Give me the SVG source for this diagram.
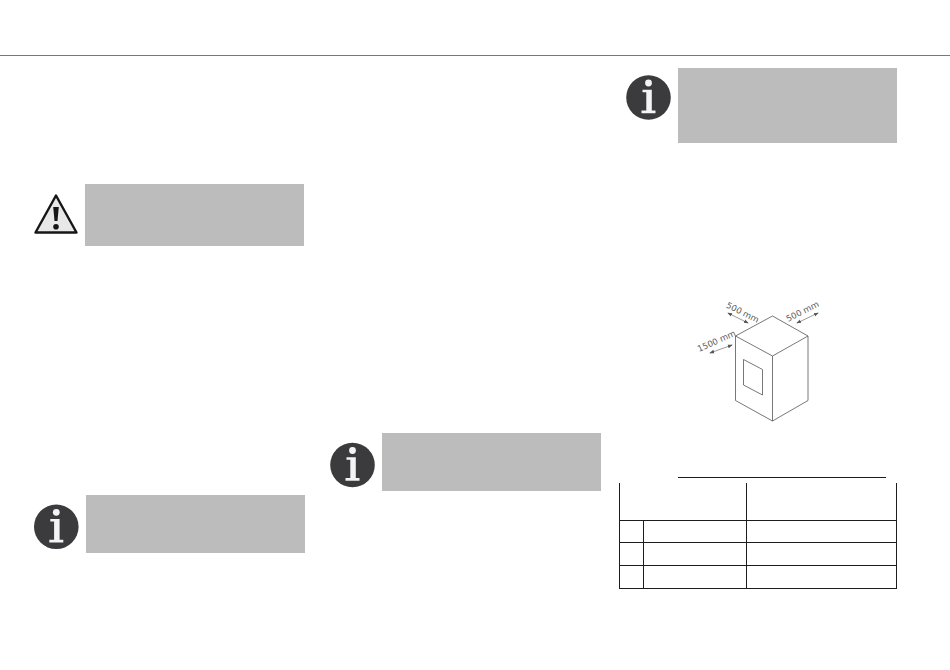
<svg xmlns="http://www.w3.org/2000/svg" width="950" height="670" viewBox="0 0 950 670">
<style>
.box{fill:#bcbcbc}
.disc{fill:#3b3b3d}
.gl{fill:#f4f4f4}
.t{stroke:#1c1c1c;stroke-width:1;fill:none}
.c{stroke:#555;stroke-width:.8;fill:none;stroke-linejoin:round}
.d{font-family:"DejaVu Sans",sans-serif;font-size:8.500px;fill:#5a5a5a}
.a{stroke:#555;stroke-width:.6;fill:none}
</style>
<defs>
<g id="info">
<circle cx="0" cy="0" r="22.300" class="disc"/>
<circle cx="0" cy="-14.500" r="3.400" class="gl"/>
<path class="gl" d="M-6-7.700H3.300V13H7V15.700H-7V13H-2.200V-5.200H-6Z"/>
</g>
<marker id="ah" viewBox="0 0 6 6" refX="5" refY="3" markerWidth="5" markerHeight="5" orient="auto-start-reverse" markerUnits="userSpaceOnUse"><path d="M0 .8L6 3L0 5.200Z" fill="#555"/></marker>
</defs>
<rect width="950" height="670" fill="#fff"/>
<line x1="0" y1="55.500" x2="950" y2="55.500" stroke="#777" stroke-width="1"/>
<g id="warning-note">
<rect class="box" x="85" y="184" width="219" height="62"/>
<path d="M56 195.500L76.500 232.500H35.500Z" fill="#e8e8e8" stroke="#161616" stroke-width="2.400" stroke-linejoin="round"/>
<path d="M53.200 207H58.800L57.500 221H54.500Z" fill="#161616"/>
<circle cx="56" cy="226.800" r="2.800" fill="#161616"/>
</g>
<g id="info-note-1">
<rect class="box" x="86" y="495" width="219" height="58"/>
<use href="#info" x="56.300" y="526.800"/>
</g>
<g id="info-note-2">
<rect class="box" x="382" y="433" width="219" height="58"/>
<use href="#info" x="352.500" y="465"/>
</g>
<g id="info-note-3">
<rect class="box" x="678" y="68" width="219" height="75"/>
<use href="#info" x="648.500" y="97.500"/>
</g>
<g id="clearance-figure">
<path class="c" d="M735.500 336L772.500 316L808 336L772.500 356Z"/>
<path class="c" d="M735.500 336V400.500L772.500 421L808 400.500V336M772.500 356V421"/>
<path class="c" d="M743.500 359.500L762.500 369.500V395L743.500 385Z"/>
<line class="a" x1="728" y1="313" x2="748" y2="323" marker-start="url(#ah)" marker-end="url(#ah)"/>
<line class="a" x1="797" y1="323" x2="818" y2="313" marker-start="url(#ah)" marker-end="url(#ah)"/>
<line class="a" x1="710" y1="353" x2="732" y2="345" marker-start="url(#ah)" marker-end="url(#ah)"/>
<text class="d" transform="translate(725.500 307) rotate(27)">500 mm</text>
<text class="d" transform="translate(788 322) rotate(-27)">500 mm</text>
<text class="d" transform="translate(699 352) rotate(-24)">1500 mm</text>
</g>
<g id="table">
<path class="t" d="M678 477.500H886"/>
<path class="t" d="M619.500 483V589M746.500 483V589M896.500 483V589M643.500 520V589"/>
<path class="t" d="M619 520.500H897M619 542.500H897M619 565.500H897M619 588.500H897"/>
</g>
</svg>
